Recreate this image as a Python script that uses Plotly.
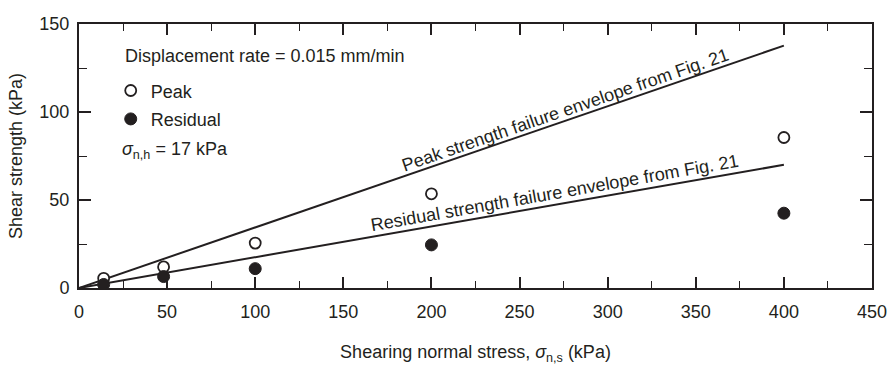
import plotly.graph_objects as go

# ---- data ----
normal_stress = [14, 48, 100, 200, 400]
peak_strength = [5.5, 12, 25.5, 53.5, 85.5]
residual_strength = [2, 6.5, 11, 24.5, 42.5]

envelope_x = [0, 400]
peak_envelope = [0, 137.7]
residual_envelope = [0, 70]

x_ticks = [0, 50, 100, 150, 200, 250, 300, 350, 400, 450]
y_ticks = [0, 50, 100, 150]

INK = "#231f20"
FONT = "Liberation Sans, Arial, Helvetica, sans-serif"
FS = 18

fig = go.Figure()

fig.add_trace(go.Scatter(x=envelope_x, y=peak_envelope, mode="lines",
                         line=dict(color=INK, width=2), showlegend=False,
                         hoverinfo="skip"))
fig.add_trace(go.Scatter(x=envelope_x, y=residual_envelope, mode="lines",
                         line=dict(color=INK, width=2), showlegend=False,
                         hoverinfo="skip"))

fig.add_trace(go.Scatter(x=normal_stress, y=peak_strength, mode="markers",
                         name="Peak", legendgroup="a",
                         marker=dict(symbol="circle", size=11, color="white",
                                     line=dict(color=INK, width=1.8))))
fig.add_trace(go.Scatter(x=normal_stress, y=residual_strength, mode="markers",
                         name="Residual", legendgroup="b",
                         marker=dict(symbol="circle", size=12, color=INK,
                                     line=dict(color=INK, width=1))))

annots = [
    dict(x=25, y=131.8, xref="x", yref="y", xanchor="left", yanchor="middle",
         text="Displacement rate = 0.015 mm/min", showarrow=False),
    dict(x=23, y=78.4, xref="x", yref="y", xanchor="left", yanchor="middle",
         text="<i>σ</i><sub>n,h</sub> = 17 kPa", showarrow=False),
    dict(x=276, y=peak_envelope[1] * 276 / envelope_x[1], xref="x", yref="y",
         text="Peak strength failure envelope from Fig. 21", showarrow=False,
         textangle=-19, yshift=11, xanchor="center", yanchor="middle"),
    dict(x=270, y=residual_envelope[1] * 270 / envelope_x[1], xref="x", yref="y",
         text="Residual strength failure envelope from Fig. 21", showarrow=False,
         textangle=-10, yshift=12, xanchor="center", yanchor="middle"),
]

fig.update_layout(
    width=891, height=365,
    margin=dict(l=79, r=19, t=24, b=77, autoexpand=False),
    paper_bgcolor="white", plot_bgcolor="white",
    font=dict(family=FONT, size=FS, color=INK),
    annotations=annots,
    showlegend=True,
    legend=dict(x=0.04, y=0.817, xanchor="left", yanchor="top",
                bgcolor="rgba(0,0,0,0)", tracegroupgap=2, itemwidth=30,
                font=dict(size=FS, color=INK)),
)

fig.update_xaxes(
    range=[0, 450], tickvals=x_ticks, ticktext=[str(v) for v in x_ticks],
    ticks="inside", ticklen=11, tickwidth=1.5, tickcolor=INK,
    minor=dict(dtick=25, ticks="inside", ticklen=7, tickwidth=1.3, tickcolor=INK),
    showline=True, linecolor=INK, linewidth=2, mirror="ticks",
    showgrid=False, zeroline=False, ticklabelstandoff=6, automargin=False,
    title=dict(text="Shearing normal stress, <i>σ</i><sub>n,s</sub> (kPa)",
               standoff=26, font=dict(size=FS)),
)
fig.update_yaxes(
    range=[0, 150], tickvals=y_ticks, ticktext=[str(v) for v in y_ticks],
    ticks="inside", ticklen=12, tickwidth=1.5, tickcolor=INK,
    minor=dict(dtick=25, ticks="inside", ticklen=8, tickwidth=1.3, tickcolor=INK),
    showline=True, linecolor=INK, linewidth=2, mirror="ticks",
    showgrid=False, zeroline=False, ticklabelstandoff=4, automargin=False,
    title=dict(text="Shear strength (kPa)", standoff=12, font=dict(size=FS)),
)

fig.write_html("out.html")
